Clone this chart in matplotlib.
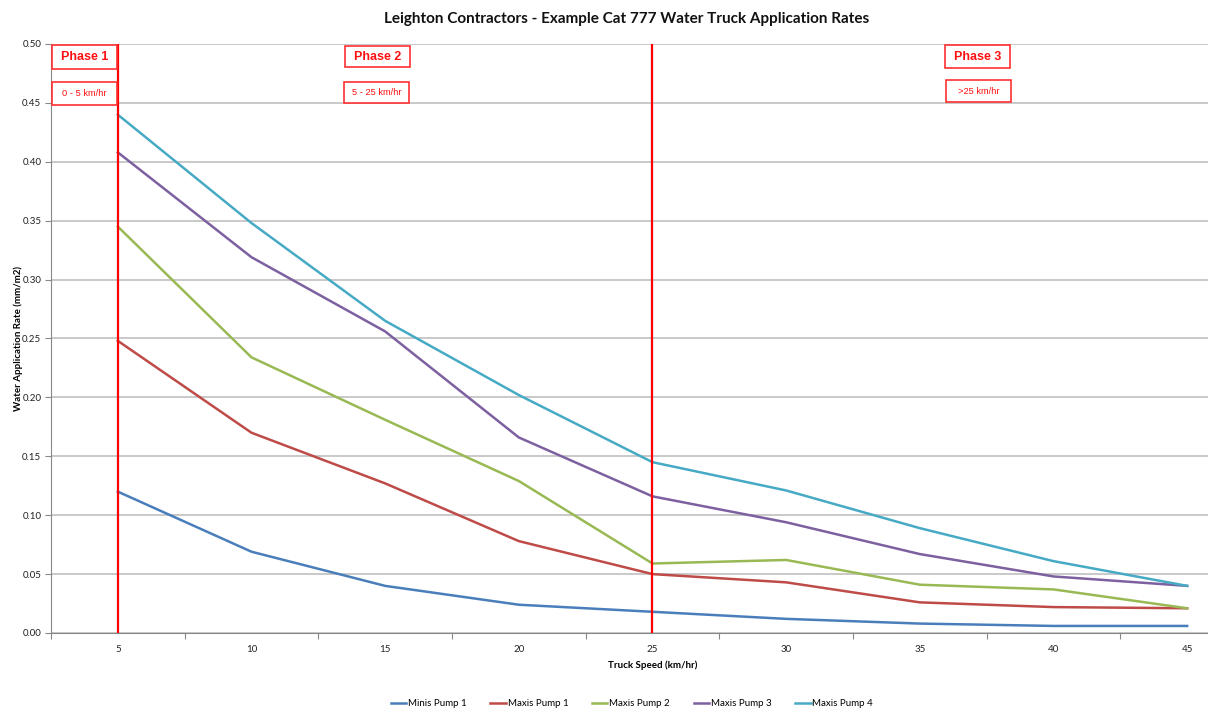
import matplotlib.pyplot as plt
from matplotlib.patches import Rectangle

# truck speed categories (km/hr)
speeds = ["5", "10", "15", "20", "25", "30", "35", "40", "45"]

# water application rates (mm/m2)
minis_pump_1 = [0.120, 0.069, 0.040, 0.024, 0.018, 0.012, 0.008, 0.006, 0.006]
maxis_pump_1 = [0.248, 0.170, 0.127, 0.078, 0.050, 0.043, 0.026, 0.022, 0.021]
maxis_pump_2 = [0.345, 0.234, 0.181, 0.129, 0.059, 0.062, 0.041, 0.037, 0.021]
maxis_pump_3 = [0.408, 0.319, 0.256, 0.166, 0.116, 0.094, 0.067, 0.048, 0.040]
maxis_pump_4 = [0.440, 0.348, 0.265, 0.202, 0.145, 0.121, 0.089, 0.061, 0.040]

series_names = ["Minis Pump 1", "Maxis Pump 1", "Maxis Pump 2", "Maxis Pump 3", "Maxis Pump 4"]
series_colors = ["#4A7EBB", "#BE4B48", "#98B954", "#7D60A0", "#46AAC5"]

# phase boundaries (category index, 1 = 5 km/hr)
phase_lines = [1, 5]
phase_titles = ["Phase 1", "Phase 2", "Phase 3"]
phase_ranges = ["0 - 5 km/hr", "5 - 25 km/hr", ">25 km/hr"]

plt.rcParams['font.family'] = ['Lato', 'DejaVu Sans']

W, H = 1208, 709
fig = plt.figure(figsize=(W / 100, H / 100), dpi=100)
# plot area runs past the right edge of the picture (cropped original)
ax = fig.add_axes([51 / W, 1 - 633 / H, (1254 - 51) / W, (633 - 44) / H])

x = list(range(1, len(speeds) + 1))
all_series = [minis_pump_1, maxis_pump_1, maxis_pump_2, maxis_pump_3, maxis_pump_4]
handles = []
for vals, name, col in zip(all_series, series_names, series_colors):
    h, = ax.plot(x, vals, color=col, lw=1.8, label=name, zorder=3)
    handles.append(h)

for p in phase_lines:
    ax.axvline(p, color="#FF0000", lw=1.6, zorder=4)

ax.set_xlim(0.5, 9.5)
ax.set_ylim(0, 0.5)

# gridlines
yt = [i * 0.05 for i in range(11)]
ax.set_yticks(yt)
ax.set_yticklabels(["%.2f" % v for v in yt], fontsize=7, color="#222222")
ax.yaxis.grid(True, color="#C0C0C0", lw=1.2)
ax.set_axisbelow(True)

# category axis: ticks between categories, labels at centres
ax.set_xticks([i + 0.5 for i in range(0, 10)])
ax.set_xticklabels([])
ax.set_xticks(x, minor=True)
ax.set_xticklabels(speeds, minor=True, fontsize=7, color="#222222")
ax.tick_params(axis="x", which="major", length=4, color="#888888", direction="out")
ax.tick_params(axis="x", which="minor", length=0, pad=9)
ax.tick_params(axis="y", length=4, color="#888888", pad=3)

for s in ["top", "right"]:
    ax.spines[s].set_visible(False)
for s in ["left", "bottom"]:
    ax.spines[s].set_color("#888888")

ax.set_xlabel("Truck Speed (km/hr)", fontsize=7, fontweight="bold", labelpad=4)
ax.set_ylabel("Water Application Rate (mm/m2)", fontsize=7, fontweight="bold", labelpad=4)
ax.yaxis.set_label_coords(-28 / (1254 - 51), 0.5)

fig.text(627 / W, 1 - 19 / H, "Leighton Contractors - Example Cat 777 Water Truck Application Rates",
         ha="center", va="center", fontsize=11, fontweight="bold", color="#111111")

# phase label boxes (pixel positions of the boxes, converted to figure fraction)
title_boxes = [(52, 45, 117, 69), (345, 46, 410, 67), (945, 45, 1010, 68)]
range_boxes = [(52, 82, 117, 105), (344, 82, 409, 103), (946, 80, 1011, 102)]
for (bx0, by0, bx1, by1), txt in zip(title_boxes, phase_titles):
    fig.patches.append(Rectangle((bx0 / W, 1 - by1 / H), (bx1 - bx0) / W, (by1 - by0) / H,
                                 transform=fig.transFigure, fill=True, facecolor="white",
                                 edgecolor="#FF3030", lw=1.2, zorder=5))
    fig.text((bx0 + bx1) / 2 / W, 1 - (by0 + by1) / 2 / H, txt, ha="center", va="center",
             fontsize=9, fontweight="bold", color="#FF1010", family="Liberation Sans", zorder=6)
for (bx0, by0, bx1, by1), txt in zip(range_boxes, phase_ranges):
    fig.patches.append(Rectangle((bx0 / W, 1 - by1 / H), (bx1 - bx0) / W, (by1 - by0) / H,
                                 transform=fig.transFigure, fill=True, facecolor="white",
                                 edgecolor="#FF3030", lw=1.2, zorder=5))
    fig.text((bx0 + bx1) / 2 / W, 1 - (by0 + by1) / 2 / H, txt, ha="center", va="center",
             fontsize=6.7, color="#FF1010", family="Liberation Sans", zorder=6)

fig.legend(handles=handles, loc="center", bbox_to_anchor=(632 / W, 1 - 704 / H), ncol=5,
           frameon=False, fontsize=7, handlelength=1.6, handletextpad=0.2, columnspacing=2.4)

fig.savefig("out.png", dpi=100)
